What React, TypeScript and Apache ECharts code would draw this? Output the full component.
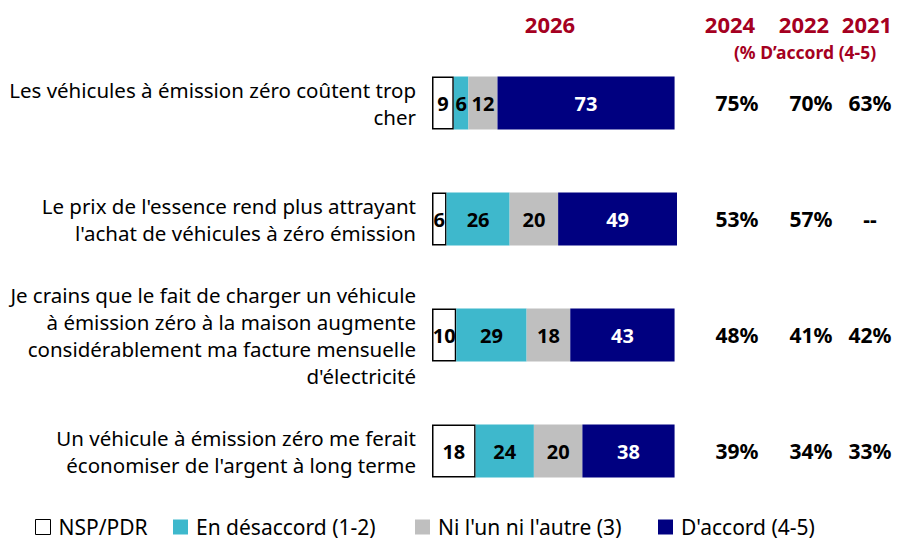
import React, { useEffect, useRef } from "react";
import * as echarts from "echarts";

const categories = [
  "Les véhicules à émission zéro coûtent trop\ncher",
  "Le prix de l'essence rend plus attrayant\nl'achat de véhicules à zéro émission",
  "Je crains que le fait de charger un véhicule\nà émission zéro à la maison augmente\nconsidérablement ma facture mensuelle\nd'électricité",
  "Un véhicule à émission zéro me ferait\néconomiser de l'argent à long terme",
];
const nsp = [9, 6, 10, 18];
const desaccord = [6, 26, 29, 24];
const neutre = [12, 20, 18, 20];
const accord = [73, 49, 43, 38];
const val2024 = ["75%", "53%", "48%", "39%"];
const val2022 = ["70%", "57%", "41%", "34%"];
const val2021 = ["63%", "--", "42%", "33%"];
const seriesNames = ["NSP/PDR", "En désaccord (1-2)", "Ni l'un ni l'autre (3)", "D'accord (4-5)"];
const headers = ["2026", "2024", "2022", "2021"];
const subHeader = "(% D’accord (4-5)";

const FONT = "'Noto Sans', sans-serif";
const RED = "#A50021";

export default function App() {
  const ref = useRef<HTMLDivElement>(null);
  useEffect(() => {
    document.body.style.margin = "0";
    if (!ref.current) return;
    const chart = echarts.init(ref.current, undefined, { renderer: "svg" });
    const label = (color: string) => ({
      show: true,
      position: "inside",
      formatter: "{c}",
      color,
      fontFamily: FONT,
      fontWeight: "bold",
      fontSize: 20,
    });
    const colors = ["#FFFFFF", "#3EB8CC", "#BFBFBF", "#000080"];
    const data = [nsp, desaccord, neutre, accord];
    const series = data.map((d, i) => ({
      name: seriesNames[i],
      type: "bar",
      stack: "total",
      barWidth: 53,
      data: d,
      itemStyle:
        i === 0
          ? { color: colors[i], borderColor: "#000", borderWidth: 1.5 }
          : { color: colors[i] },
      label: label(i === 3 ? "#FFFFFF" : "#000000"),
    }));
    const rs = { fontSize: 21, fontWeight: "bold", color: "#000", fontFamily: FONT, align: "center" };
    const legendLefts = [30, 168, 410, 653];
    const legends = seriesNames.map((n, i) => ({
      left: legendLefts[i],
      top: 511,
      itemWidth: 15,
      itemHeight: 15,
      icon: "rect",
      data: [
        {
          name: n,
          itemStyle:
            i === 0
              ? { color: colors[i], borderColor: "#000", borderWidth: 1 }
              : { color: colors[i], borderWidth: 0 },
        },
      ],
      textStyle: { fontSize: 21, lineHeight: 22, color: "#000", fontFamily: FONT, padding: [0, 0, 0, 3] },
    }));
    chart.setOption({
      animation: false,
      textStyle: { fontFamily: FONT },
      grid: { left: 432, right: 220, top: 45, bottom: 33 },
      xAxis: { type: "value", min: 0, max: 101, show: false },
      yAxis: [
        {
          type: "category",
          data: categories,
          inverse: true,
          axisLine: { show: false },
          axisTick: { show: false },
          axisLabel: {
            margin: 16,
            fontSize: 20.5,
            lineHeight: 27,
            color: "#000",
            fontFamily: FONT,
            align: "right",
          },
        },
        {
          type: "category",
          data: categories,
          inverse: true,
          position: "right",
          axisLine: { show: false },
          axisTick: { show: false },
          axisLabel: {
            margin: 23,
            align: "left",
            formatter: (_v: string, idx: number) =>
              `{a|${val2024[idx]}}{b|${val2022[idx]}}{c|${val2021[idx]}}`,
            rich: {
              a: { ...rs, width: 74 },
              b: { ...rs, width: 74 },
              c: { ...rs, width: 44 },
            },
          },
        },
      ],
      legend: legends,
      graphic: [
        { type: "text", x: 550, y: 24, style: { text: headers[0], fill: RED, font: `bold 22px ${FONT}`, textAlign: "center", textVerticalAlign: "middle" } },
        { type: "text", x: 730, y: 24, style: { text: headers[1], fill: RED, font: `bold 22px ${FONT}`, textAlign: "center", textVerticalAlign: "middle" } },
        { type: "text", x: 804, y: 24, style: { text: headers[2], fill: RED, font: `bold 22px ${FONT}`, textAlign: "center", textVerticalAlign: "middle" } },
        { type: "text", x: 867, y: 24, style: { text: headers[3], fill: RED, font: `bold 22px ${FONT}`, textAlign: "center", textVerticalAlign: "middle" } },
        { type: "text", x: 805, y: 52, style: { text: subHeader, fill: RED, font: `bold 17.5px ${FONT}`, textAlign: "center", textVerticalAlign: "middle" } },
      ],
      series,
    });
    return () => chart.dispose();
  }, []);
  return <div ref={ref} style={{ width: 897, height: 542 }} />;
}
